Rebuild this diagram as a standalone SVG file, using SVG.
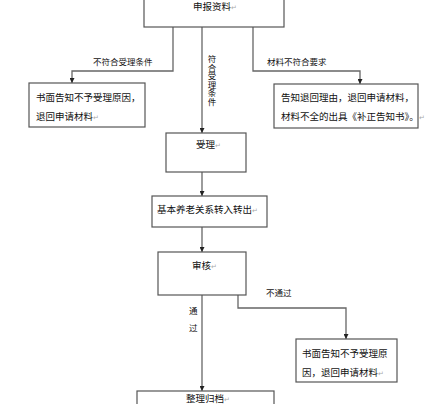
<svg xmlns="http://www.w3.org/2000/svg" width="444" height="404" viewBox="0 0 444 404">
<style>
.box{fill:#fff;stroke:#555;stroke-width:1.2}
.t{font-family:"Noto Sans CJK SC","Noto Sans CJK JP",sans-serif;font-size:9.5px;fill:#111}
.s{font-size:8.5px}
.pm{fill:#aaa;font-size:7px}
.ln{fill:none;stroke:#666;stroke-width:1.3}
.v{writing-mode:vertical-rl;text-orientation:upright;font-size:8.5px}
</style>
<defs>
<marker id="ah" viewBox="0 0 8 8" refX="8" refY="4" markerWidth="5" markerHeight="5" orient="auto" markerUnits="userSpaceOnUse">
<path d="M0,0 L8,4 L0,8 Z" fill="#222"/>
</marker>
</defs>
<rect width="444" height="404" fill="#fff"/>
<g id="connectors">
<path class="ln" d="M173,27 V71 H72 V83" marker-end="url(#ah)"/>
<path class="ln" d="M202,27 V133" marker-end="url(#ah)"/>
<path class="ln" d="M253,27 V71 H360 V84" marker-end="url(#ah)"/>
<path class="ln" d="M202,172 V196" marker-end="url(#ah)"/>
<path class="ln" d="M202,227 V252" marker-end="url(#ah)"/>
<path class="ln" d="M238,295 V308 H346 V339" marker-end="url(#ah)"/>
<path class="ln" d="M202,295 V391" marker-end="url(#ah)"/>
<text class="t s" x="93" y="65">不符合受理条件</text>
<text class="t s" x="267" y="65">材料不符合要求</text>
<text class="t s" x="266" y="296">不通过</text>
<text class="t s" x="189" y="314">通</text>
<text class="t s" x="189" y="331">过</text>
<text class="t v" x="212" y="55">符合受理条件</text>
</g>
<g id="n1">
<rect class="box" x="144" y="-5" width="140" height="32"/>
<text class="t" x="193" y="10">申报资料<tspan class="pm">↵</tspan></text>
</g>
<g id="n2">
<rect class="box" x="29" y="83" width="116" height="44"/>
<text class="t" x="36" y="101">书面告知不予受理原因，</text>
<text class="t" x="36" y="120">退回申请材料<tspan class="pm">↵</tspan></text>
</g>
<g id="n3">
<rect class="box" x="274" y="84" width="144" height="44"/>
<text class="t" x="281" y="101">告知退回理由，退回申请材料，</text>
<text class="t" x="281" y="120">材料不全的出具《补正告知书》。<tspan class="pm">↵</tspan></text>
</g>
<g id="n4">
<rect class="box" x="166" y="133" width="80" height="39"/>
<text class="t" x="196" y="148">受理<tspan class="pm">↵</tspan></text>
</g>
<g id="n5">
<rect class="box" x="152" y="196" width="115" height="31"/>
<text class="t" x="157" y="213">基本养老关系转入转出<tspan class="pm">↵</tspan></text>
</g>
<g id="n6">
<rect class="box" x="158" y="252" width="88" height="43"/>
<text class="t" x="192" y="269">审核<tspan class="pm">↵</tspan></text>
</g>
<g id="n7">
<rect class="box" x="296" y="339" width="101" height="43"/>
<text class="t" x="302" y="357">书面告知不予受理原</text>
<text class="t" x="302" y="376">因，退回申请材料<tspan class="pm">↵</tspan></text>
</g>
<g id="n8">
<rect class="box" x="137" y="391" width="137" height="20"/>
<text class="t" x="186" y="402">整理归档<tspan class="pm">↵</tspan></text>
</g>
</svg>
